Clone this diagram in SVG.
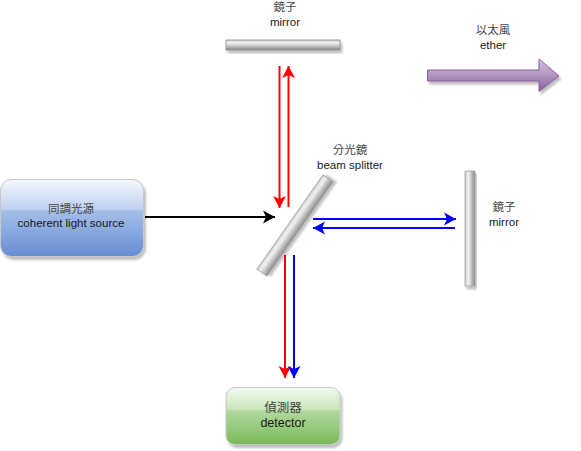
<svg xmlns="http://www.w3.org/2000/svg" width="581" height="451" viewBox="0 0 581 451">
<style>
text{font-family:"Liberation Sans","Noto Sans CJK TC",sans-serif;font-size:11.5px;fill:#1a1a1a;text-anchor:middle}
.z{font-size:11.5px;fill:#444}
.d{font-size:12.500px}
.r{fill:none;stroke:#ff0000;stroke-width:2}
.b{fill:none;stroke:#0000ff;stroke-width:2}
.k{fill:none;stroke:#000;stroke-width:2}
.sh{filter:url(#s)}
</style>
<defs>
<filter id="s" x="-20%" y="-40%" width="140%" height="180%"><feDropShadow dx="2" dy="3" stdDeviation="1" flood-color="#000" flood-opacity="0.25"/></filter>
<linearGradient id="blue" x1="0" y1="0" x2="0" y2="1"><stop offset="0" stop-color="#f4f7fe"/><stop offset="0.4" stop-color="#bdd0f1"/><stop offset="0.4" stop-color="#a6bfe8"/><stop offset="1" stop-color="#658cd2"/></linearGradient>
<linearGradient id="green" x1="0" y1="0" x2="0" y2="1"><stop offset="0" stop-color="#f4faf0"/><stop offset="0.4" stop-color="#c6e4b6"/><stop offset="0.4" stop-color="#b2d99f"/><stop offset="1" stop-color="#78ba58"/></linearGradient>
<linearGradient id="v" x1="0" y1="0" x2="0" y2="1"><stop offset="0" stop-color="#d4d4d4"/><stop offset="0.3" stop-color="#f2f2f2"/><stop offset="1" stop-color="#8a8a8a"/></linearGradient>
<linearGradient id="h" x1="0" y1="0" x2="1" y2="0"><stop offset="0" stop-color="#cfcfcf"/><stop offset="0.35" stop-color="#f2f2f2"/><stop offset="1" stop-color="#8a8a8a"/></linearGradient>
<linearGradient id="p" x1="0" y1="0" x2="0" y2="1"><stop offset="0" stop-color="#d6c3dd"/><stop offset="0.5" stop-color="#b195bf"/><stop offset="1" stop-color="#8a5f9c"/></linearGradient>
<marker id="ar" markerUnits="userSpaceOnUse" markerWidth="13" markerHeight="14" refX="12" refY="7" orient="auto"><path d="M0 0.500L12 7L0 13.500L3 7Z" fill="#ff0000"/></marker>
<marker id="ab" markerUnits="userSpaceOnUse" markerWidth="13" markerHeight="14" refX="12" refY="7" orient="auto"><path d="M0 0.500L12 7L0 13.500L3 7Z" fill="#0000ff"/></marker>
<marker id="ak" markerUnits="userSpaceOnUse" markerWidth="13" markerHeight="14" refX="12" refY="7" orient="auto"><path d="M0 0.500L12 7L0 13.500L3 7Z" fill="#000"/></marker>
</defs>
<g id="source">
<rect class="sh" x="0.5" y="179.5" width="143" height="77" rx="11" fill="url(#blue)" stroke="#c8c8c8"/>
<text class="z" x="71" y="213">同調光源</text>
<text x="71" y="227">coherent light source</text>
</g>
<g id="mirror-top">
<rect class="sh" x="226" y="40" width="114" height="10" fill="url(#v)" stroke="#888" stroke-width="0.8"/>
<text class="z" x="285" y="11">鏡子</text>
<text x="285" y="26">mirror</text>
</g>
<g id="mirror-right">
<rect class="sh" x="465" y="171" width="10" height="115" rx="1" fill="url(#h)" stroke="#999" stroke-width="0.8"/>
<text class="z" x="504" y="211">鏡子</text>
<text x="504" y="226">mirror</text>
</g>
<g id="splitter">
<rect class="sh" x="237.5" y="219.5" width="115" height="12" transform="rotate(-55 295 225.5)" fill="url(#v)" stroke="#999" stroke-width="0.8"/>
<text class="z" x="350" y="154">分光鏡</text>
<text x="350" y="169">beam splitter</text>
</g>
<g id="detector">
<rect class="sh" x="226" y="387.5" width="114" height="57" rx="9" fill="url(#green)" stroke="#c8c8c8"/>
<text class="z d" x="283" y="412">偵測器</text>
<text class="d" x="283" y="427">detector</text>
</g>
<g id="ether">
<path class="sh" d="M427.500 70H539V59L559 76L539 91.500V81H427.500Z" fill="url(#p)" stroke="#8a5f9c"/>
<text class="z" x="493" y="34">以太風</text>
<text x="493" y="49">ether</text>
</g>
<g id="connectors">
<path class="k" d="M145 217H275" marker-end="url(#ak)"/>
<path class="r" d="M279.500 66V208" marker-end="url(#ar)"/>
<path class="r" d="M288.500 207V66" marker-end="url(#ar)"/>
<path class="b" d="M313 219H456" marker-end="url(#ab)"/>
<path class="b" d="M455 228H313" marker-end="url(#ab)"/>
<path class="r" d="M285 255V378" marker-end="url(#ar)"/>
<path class="b" d="M294 255V378" marker-end="url(#ab)"/>
</g>
</svg>
